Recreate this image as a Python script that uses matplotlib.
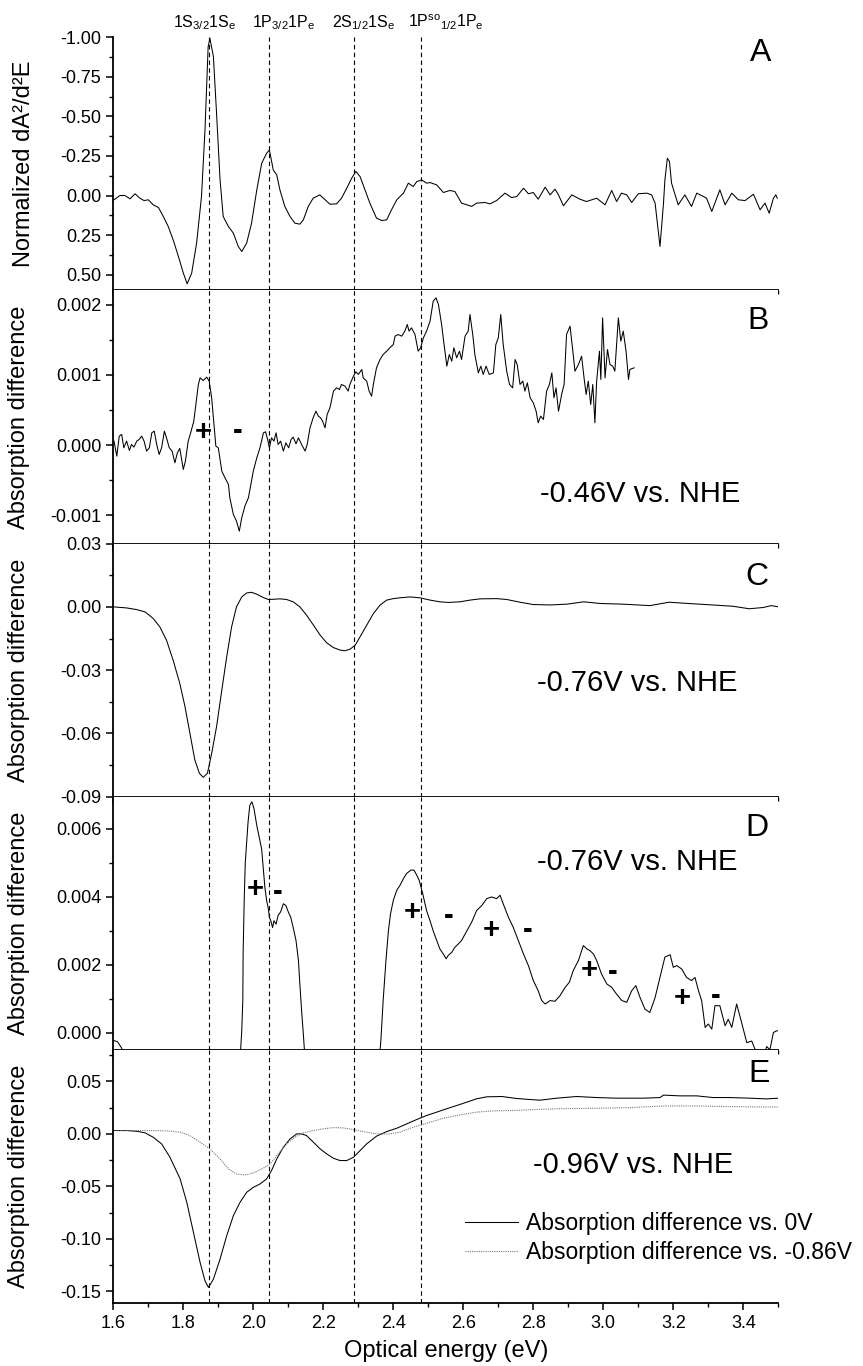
import numpy as np
import matplotlib
matplotlib.use("Agg")
import matplotlib.pyplot as plt
from matplotlib.ticker import MultipleLocator, FormatStrFormatter

plt.rcParams['font.family'] = ['Liberation Sans', 'DejaVu Sans']
plt.rcParams['axes.unicode_minus'] = False
plt.rcParams['mathtext.fontset'] = 'custom'
plt.rcParams['mathtext.rm'] = 'Liberation Sans'
plt.rcParams['mathtext.it'] = 'Liberation Sans:italic'
plt.rcParams['mathtext.bf'] = 'Liberation Sans:bold'

# transition energies (eV) and their labels
trans_e = [1.873, 2.044, 2.289, 2.479]
trans_lbl = [r'1S$_{\mathrm{3/2}}$1S$_{\mathrm{e}}$',
             r'1P$_{\mathrm{3/2}}$1P$_{\mathrm{e}}$',
             r'2S$_{\mathrm{1/2}}$1S$_{\mathrm{e}}$',
             r'1P$^{\mathrm{so}}{}_{\mathrm{1/2}}$1P$_{\mathrm{e}}$']

# panel A: normalized second derivative
a_x = [1.602, 1.619, 1.633, 1.648, 1.662, 1.676, 1.688, 1.700, 1.714, 1.729, 1.743, 1.757,
       1.771, 1.786, 1.800, 1.811, 1.824, 1.838, 1.852, 1.862, 1.871, 1.876, 1.886, 1.895,
       1.905, 1.914, 1.929, 1.943, 1.957, 1.967, 1.981, 1.995, 2.010, 2.024, 2.038, 2.046,
       2.057, 2.067, 2.076, 2.090, 2.105, 2.119, 2.133, 2.143, 2.157, 2.171, 2.190, 2.205,
       2.219, 2.238, 2.252, 2.267, 2.281, 2.293, 2.305, 2.319, 2.333, 2.352, 2.367, 2.381,
       2.395, 2.410, 2.429, 2.443, 2.457, 2.467, 2.481, 2.495,
       2.505, 2.524, 2.543, 2.562, 2.576, 2.595, 2.624, 2.638, 2.662, 2.676, 2.695, 2.719,
       2.738, 2.753, 2.772, 2.786, 2.800, 2.814, 2.834, 2.848, 2.862, 2.872, 2.886, 2.910,
       2.933, 2.952, 2.981, 3.005, 3.024, 3.038, 3.052, 3.067, 3.081, 3.100, 3.124, 3.138,
       3.148, 3.162, 3.172, 3.176, 3.183, 3.189, 3.195, 3.214, 3.233, 3.252, 3.267, 3.286,
       3.295, 3.310, 3.333, 3.348, 3.367, 3.386, 3.405, 3.429, 3.448, 3.462, 3.474, 3.486,
       3.493, 3.497]
a_y = [0.027, 0.0, 0.0, 0.021, -0.011, 0.017, 0.032, 0.027, 0.059, 0.076, 0.133, 0.196,
       0.280, 0.385, 0.490, 0.558, 0.490, 0.301, 0.006, -0.415, -0.941, -0.993, -0.878, -0.520,
       -0.099, 0.133, 0.196, 0.238, 0.322, 0.354, 0.301, 0.175, -0.036, -0.204, -0.267, -0.288,
       -0.162, -0.130, -0.036, 0.069, 0.133, 0.175, 0.181, 0.154, 0.069, 0.017, -0.004, 0.027,
       0.055, 0.053, 0.017, -0.046, -0.109, -0.152, -0.120, -0.036, 0.048, 0.143, 0.158, 0.154,
       0.090, 0.027, -0.015, -0.078, -0.057, -0.088, -0.099, -0.078,
       -0.082, -0.067, -0.019, -0.032, -0.025, 0.048, 0.069, 0.048, 0.044, 0.053, 0.032, -0.015,
       0.013, 0.006, -0.046, -0.011, -0.019, 0.023, -0.053, -0.004, -0.040, -0.004, 0.065, -0.004,
       0.023, 0.038, 0.017, 0.059, -0.032, 0.038, -0.015, -0.004, 0.044, -0.011, -0.015, -0.004,
       0.048, 0.322, 0.048, -0.099, -0.236, -0.215, -0.078, 0.059, -0.004, 0.069, -0.015, 0.006,
       0.017, 0.101, -0.036, 0.059, -0.015, 0.027, 0.032, -0.008, 0.090, 0.048, 0.112, 0.017,
       -0.004, 0.017]

# panel B: -0.46 V (values in 1e-3)
b_x = [1.602, 1.610, 1.617, 1.624, 1.630, 1.638, 1.646, 1.652, 1.659, 1.667, 1.674, 1.681,
       1.688, 1.695, 1.703, 1.710, 1.717, 1.724, 1.731, 1.738, 1.746, 1.752, 1.760, 1.768,
       1.776, 1.783, 1.790, 1.800, 1.806, 1.814, 1.821, 1.830, 1.836, 1.843, 1.848, 1.857,
       1.867, 1.874, 1.881, 1.886, 1.893, 1.900, 1.910, 1.919, 1.929, 1.933, 1.943, 1.952,
       1.960, 1.967, 1.976, 1.986, 2.000, 2.010, 2.019, 2.029, 2.035, 2.041, 2.046, 2.052,
       2.059, 2.065, 2.071, 2.078, 2.086, 2.093, 2.101, 2.108, 2.114, 2.122, 2.129, 2.138,
       2.148, 2.154, 2.162, 2.171, 2.179, 2.186, 2.192, 2.198, 2.205, 2.211, 2.219, 2.229,
       2.238, 2.246, 2.252, 2.262, 2.271, 2.276, 2.286, 2.293, 2.300, 2.310, 2.314, 2.324,
       2.331, 2.338, 2.343, 2.352, 2.362, 2.371, 2.381, 2.390, 2.400, 2.405, 2.414, 2.424,
       2.433, 2.440, 2.445, 2.452, 2.462, 2.471, 2.478, 2.486, 2.495, 2.505,
       2.514, 2.522, 2.529, 2.538, 2.545, 2.553, 2.560, 2.567, 2.573, 2.581, 2.589, 2.595,
       2.605, 2.614, 2.619, 2.627, 2.633, 2.643, 2.650, 2.657, 2.665, 2.674, 2.686, 2.693,
       2.700, 2.707, 2.714, 2.724, 2.732, 2.741, 2.748, 2.754, 2.762, 2.770, 2.776, 2.783,
       2.791, 2.800, 2.808, 2.814, 2.821, 2.829, 2.838, 2.846, 2.853, 2.859, 2.865, 2.872,
       2.881, 2.888, 2.895, 2.905, 2.913, 2.919, 2.929, 2.938, 2.945, 2.951, 2.957, 2.964,
       2.970, 2.976, 2.981, 2.989, 2.993, 2.998, 3.005, 3.012, 3.019, 3.027, 3.033, 3.043,
       3.050, 3.057, 3.065, 3.072, 3.076, 3.088]
b_y = [0.057, -0.156, 0.128, 0.152, -0.038, 0.057, -0.076, 0.009, -0.028, 0.057, 0.081, 0.128,
       0.057, -0.085, -0.038, 0.175, 0.199, 0.009, -0.133, -0.038, 0.199, 0.104, -0.038, -0.085,
       -0.251, -0.109, -0.047, -0.346, -0.227, 0.057, 0.175, 0.341, 0.578, 0.863, 0.957, 0.919,
       0.967, 0.910, 0.673, 0.389, -0.014, -0.038, -0.370, -0.464, -0.559, -0.749, -0.986, -1.081,
       -1.223, -1.033, -0.867, -0.749, -0.370, -0.180, -0.038, 0.175, 0.190, 0.081, -0.038, 0.104,
       0.057, 0.175, 0.009, 0.057, -0.085, 0.033, -0.038, 0.081, 0.114, 0.019, 0.104, 0.009,
       -0.085, 0.009, 0.246, 0.389, 0.483, 0.412, 0.389, 0.341, 0.246, 0.436, 0.531, 0.768,
       0.815, 0.791, 0.863, 0.839, 0.768, 0.863, 0.981, 1.043, 1.005, 1.076, 0.957, 0.910,
       0.768, 0.697, 0.863, 1.100, 1.218, 1.289, 1.336, 1.384, 1.431, 1.550, 1.573, 1.550,
       1.621, 1.716, 1.621, 1.668, 1.573, 1.336, 1.384, 1.526, 1.621, 1.763,
       2.047, 2.095, 2.000, 1.716, 1.431, 1.123, 1.289, 1.194, 1.384, 1.242, 1.336, 1.218,
       1.550, 1.621, 1.858, 1.573, 1.289, 1.028, 1.123, 1.005, 1.123, 1.005, 1.028, 1.431,
       1.526, 1.858, 1.431, 1.052, 0.863, 0.815, 1.218, 1.147, 0.863, 0.910, 0.768, 0.886,
       0.673, 0.602, 0.483, 0.318, 0.412, 0.365, 0.768, 0.863, 1.028, 0.673, 0.815, 0.483,
       0.720, 0.863, 1.573, 1.692, 1.336, 1.052, 1.147, 1.265, 0.957, 0.720, 0.910, 0.578,
       0.863, 0.318, 0.910, 1.336, 0.934, 1.810, 0.957, 1.360, 1.147, 1.123, 1.052, 1.810,
       1.479, 1.621, 1.336, 0.934, 1.076, 1.100]

# panel C: -0.76 V
c_x = [1.600, 1.638, 1.667, 1.691, 1.714, 1.733, 1.752, 1.771, 1.790, 1.805, 1.819, 1.833,
       1.846, 1.857, 1.869, 1.881, 1.895, 1.910, 1.924, 1.938, 1.952, 1.967, 1.981, 1.995,
       2.010, 2.029, 2.043, 2.057, 2.076, 2.095, 2.114, 2.133, 2.152, 2.172, 2.191, 2.210,
       2.229, 2.248, 2.262, 2.276, 2.291, 2.305, 2.324, 2.343, 2.362, 2.381, 2.400, 2.419,
       2.448, 2.476, 2.505, 2.533, 2.557, 2.591, 2.619, 2.648, 2.695, 2.724, 2.762, 2.800,
       2.849, 2.897, 2.944, 2.991, 3.054, 3.133, 3.188, 3.243, 3.322, 3.370, 3.417, 3.457,
       3.480, 3.500]
c_y = [0.0, -0.0005, -0.0013, -0.0024, -0.0055, -0.0095, -0.0158, -0.0253, -0.0363, -0.0474,
       -0.0600, -0.0726, -0.0789, -0.0808, -0.0789, -0.0695, -0.0568, -0.0395, -0.0237, -0.0095,
       0.0, 0.0047, 0.0066, 0.0069, 0.0060, 0.0044, 0.0035, 0.0036, 0.0038, 0.0035, 0.0024, 0.0,
       -0.0039, -0.0087, -0.0134, -0.0171, -0.0193, -0.0205, -0.0208, -0.0201, -0.0182, -0.0142,
       -0.0087, -0.0032, 0.0008, 0.0032, 0.0039, 0.0043, 0.0047, 0.0043, 0.0032, 0.0024, 0.0021,
       0.0024, 0.0032, 0.0038, 0.0039, 0.0035, 0.0022, 0.0011, 0.0009, 0.0013, 0.0024, 0.0016,
       0.0013, 0.0006, 0.0022, 0.0016, 0.0008, 0.0003, -0.0009, -0.0003, 0.0006, 0.0]

# panel D: -0.76 V (second measurement)
d_x = [1.600, 1.612, 1.624, 1.632, 1.962, 1.967, 1.970, 1.971, 1.974, 1.977, 1.981, 1.985,
       1.990, 1.996, 2.002, 2.010, 2.018, 2.024, 2.029, 2.033, 2.038, 2.043, 2.046, 2.050,
       2.055, 2.059, 2.065, 2.071, 2.078, 2.086, 2.093, 2.100, 2.107, 2.114, 2.122, 2.129,
       2.133, 2.138, 2.143, 2.148, 2.360, 2.365, 2.371, 2.379, 2.386, 2.392, 2.400, 2.410,
       2.419, 2.429, 2.438, 2.450, 2.459, 2.467, 2.474, 2.484, 2.495, 2.505, 2.514, 2.524,
       2.533, 2.543, 2.551, 2.557, 2.567, 2.576, 2.586, 2.595, 2.610, 2.624, 2.638, 2.653,
       2.667, 2.681, 2.695, 2.705, 2.714, 2.729, 2.743, 2.757, 2.772, 2.786, 2.800, 2.814,
       2.824, 2.834, 2.848, 2.862, 2.876, 2.891, 2.903, 2.914, 2.929, 2.943, 2.953, 2.962,
       2.972, 2.981, 2.995, 3.010, 3.024, 3.038, 3.053, 3.067, 3.081, 3.093, 3.105, 3.119,
       3.133, 3.148, 3.162, 3.176, 3.191, 3.200, 3.210, 3.224, 3.238, 3.252, 3.262, 3.272,
       3.281, 3.291, 3.300, 3.310, 3.319, 3.333, 3.348, 3.357, 3.367, 3.381, 3.395, 3.410,
       3.424, 3.438, 3.457, 3.467, 3.476, 3.486, 3.495, 3.500]
d_y = [-0.00022, -0.00026, -0.00045, -0.0009, -0.0008, 0.00006, 0.00095, 0.0024, 0.0039,
       0.0050, 0.0056, 0.0062, 0.0067, 0.0068, 0.0066, 0.0061, 0.0057, 0.0054, 0.00479,
       0.00429, 0.0039, 0.00365, 0.0034, 0.0033, 0.0031, 0.0033, 0.0032, 0.00346, 0.00356,
       0.0038, 0.00375, 0.00356, 0.0034, 0.0031, 0.00272, 0.00213, 0.00144, 0.00065, -0.00004,
       -0.0008, -0.0008, -0.00014, 0.00095, 0.00213, 0.0030, 0.0035, 0.0039, 0.0042, 0.00434,
       0.00454, 0.00469, 0.00479, 0.00479, 0.00464, 0.00449, 0.0041, 0.0036, 0.0033, 0.0030,
       0.00272, 0.00247, 0.00232, 0.00218, 0.00228, 0.00237, 0.00252, 0.00262, 0.00272, 0.0030,
       0.00326, 0.0036, 0.00375, 0.00395, 0.0040, 0.00395, 0.00405, 0.0038, 0.0034, 0.0031,
       0.00272, 0.00232, 0.00198, 0.00154, 0.00124, 0.00095, 0.00085, 0.00095, 0.00093, 0.00109,
       0.00134, 0.00149, 0.00183, 0.00213, 0.00257, 0.00247, 0.00242, 0.00232, 0.00213, 0.00173,
       0.00144, 0.00134, 0.00114, 0.00095, 0.0009, 0.00124, 0.00139, 0.00104, 0.0007, 0.0006,
       0.00104, 0.00163, 0.00223, 0.0023, 0.00193, 0.00198, 0.00188, 0.00163, 0.00154, 0.00163,
       0.00124, 0.00095, 0.00016, 0.00026, 0.00011, 0.0008, 0.0008, 0.00021, 0.0004, 0.00016,
       0.00085, 0.00031, -0.00029, -0.00024, -0.0006, -0.0007, -0.0004, -0.0005, 0.00001,
       0.00006, 0.00006]

# panel E: -0.96 V, two references
e_x = [1.600, 1.638, 1.667, 1.691, 1.714, 1.738, 1.762, 1.791, 1.810, 1.829, 1.848, 1.862,
       1.872, 1.886, 1.905, 1.924, 1.943, 1.962, 1.981, 2.000, 2.019, 2.038, 2.052, 2.067,
       2.086, 2.105, 2.124, 2.138, 2.152, 2.172, 2.191, 2.210, 2.229, 2.248, 2.267, 2.286,
       2.305, 2.324, 2.352, 2.381, 2.410, 2.438, 2.467, 2.495, 2.524, 2.552, 2.581, 2.610,
       2.638, 2.667, 2.710, 2.752, 2.791, 2.819, 2.867, 2.924, 2.981, 3.038, 3.115, 3.162,
       3.172, 3.219, 3.267, 3.314, 3.362, 3.419, 3.467, 3.500]
e_y0 = [0.0032, 0.0032, 0.0025, 0.0010, -0.0032, -0.0095, -0.0223, -0.0429, -0.0652, -0.0938,
        -0.1224, -0.1399, -0.1462, -0.1383, -0.1192, -0.0970, -0.0779, -0.0652, -0.0556, -0.0509,
        -0.0477, -0.0429, -0.0350, -0.0238, -0.0127, -0.0048, 0.0, 0.0, -0.0016, -0.0080,
        -0.0143, -0.0191, -0.0232, -0.0254, -0.0254, -0.0223, -0.0159, -0.0095, -0.0022, 0.0022,
        0.0054, 0.0095, 0.0137, 0.0175, 0.0207, 0.0239, 0.0270, 0.0302, 0.0334, 0.0353, 0.0356,
        0.0337, 0.0327, 0.0321, 0.0340, 0.0356, 0.0346, 0.0340, 0.0340, 0.0346, 0.0369, 0.0362,
        0.0362, 0.0346, 0.0346, 0.0340, 0.0333, 0.0340]
e2_x = [1.600, 1.657, 1.705, 1.752, 1.791, 1.819, 1.848, 1.876, 1.905, 1.929, 1.952, 1.976,
        2.000, 2.024, 2.048, 2.071, 2.095, 2.119, 2.143, 2.172, 2.200, 2.229, 2.257, 2.286,
        2.314, 2.352, 2.391, 2.419, 2.457, 2.495, 2.543, 2.590, 2.638, 2.686, 2.743, 2.819,
        2.886, 2.981, 3.076, 3.172, 3.267, 3.362, 3.457, 3.500]
e_y86 = [0.0032, 0.0032, 0.0032, 0.0029, 0.0016, -0.0016, -0.0080, -0.0143, -0.0238, -0.0334,
         -0.0382, -0.0391, -0.0372, -0.0334, -0.0286, -0.0191, -0.0095, -0.0032, 0.0010, 0.0032,
         0.0048, 0.0060, 0.0057, 0.0041, 0.0022, 0.0, 0.0, 0.0016, 0.0064, 0.0100, 0.0149,
         0.0181, 0.0207, 0.0219, 0.0223, 0.0234, 0.0240, 0.0244, 0.0250, 0.0266, 0.0266, 0.0260,
         0.0256, 0.0256]

# +/- markers (x, y, sign)
b_signs = [(1.856, 0.00019, '+'), (1.954, 0.00020, '-')]
d_signs = [(2.005, 0.00422, '+'), (2.071, 0.00415, '-'),
           (2.453, 0.00355, '+'), (2.557, 0.00344, '-'),
           (2.681, 0.00303, '+'), (2.784, 0.00303, '-'),
           (2.960, 0.00185, '+'), (3.027, 0.00178, '-'),
           (3.226, 0.00104, '+'), (3.322, 0.00109, '-')]

W, H = 863, 1366
fig, axs = plt.subplots(5, 1, sharex=True, figsize=(W / 100, H / 100), dpi=100)
fig.subplots_adjust(left=113.3 / W, right=778.3 / W, top=1 - 37.3 / H,
                    bottom=1 - 1303 / H, hspace=0)


def fp(x, y):
    return x / W, 1 - y / H


lw = 0.75
axs[0].plot(a_x, a_y, color='k', lw=lw)
axs[1].plot(b_x, np.array(b_y) * 1e-3, color='k', lw=lw)
axs[2].plot(c_x, c_y, color='k', lw=lw)
axs[3].plot(d_x, d_y, color='k', lw=lw)
axs[4].plot(e_x, e_y0, color='k', lw=lw, label='Absorption difference vs. 0V')
axs[4].plot(e2_x, e_y86, color='#777777', lw=0.8, ls=(0, (1, 1)),
            label='Absorption difference vs. -0.86V')

axs[0].set_ylim(0.60, -1.0)
axs[1].set_ylim(-0.0014, 0.0022)
axs[2].set_ylim(-0.09, 0.03)
axs[3].set_ylim(-0.0005, 0.00695)
axs[4].set_ylim(-0.161, 0.080)
axs[4].set_xlim(1.6, 3.5)

major = [0.25, 0.001, 0.03, 0.002, 0.05]
fmts = ['%.2f', '%.3f', '%.2f', '%.3f', '%.2f']
for ax, m, f in zip(axs, major, fmts):
    ax.yaxis.set_major_locator(MultipleLocator(m))
    ax.yaxis.set_minor_locator(MultipleLocator(m / 2))
    ax.yaxis.set_major_formatter(FormatStrFormatter(f))
    ax.xaxis.set_major_locator(MultipleLocator(0.2))
    ax.xaxis.set_minor_locator(MultipleLocator(0.1))
    ax.spines['top'].set_visible(False)
    ax.spines['right'].set_visible(False)
    ax.spines['left'].set_linewidth(1.3)
    ax.spines['bottom'].set_linewidth(1.3)
    ax.tick_params(which='major', direction='out', length=5, width=1.1, labelsize=13)
    ax.tick_params(which='minor', direction='out', length=3, width=1.0)
    ax.tick_params(axis='x', which='both', top=False)
    for e in trans_e:
        ax.axvline(e, color='k', lw=0.8, ls=(0, (4, 3)))

axs[4].xaxis.set_major_formatter(FormatStrFormatter('%.1f'))
axs[4].set_xlabel('Optical energy (eV)', fontsize=17, labelpad=6)

axs[0].set_ylabel('Normalized dA²/d²E', fontsize=17)
for ax in axs[1:]:
    ax.set_ylabel('Absorption difference', fontsize=17)
axs[0].yaxis.set_label_coords(-0.118, 0.5)
for ax in axs[1:]:
    ax.yaxis.set_label_coords(-0.125, 0.5)

for x, y, s in b_signs:
    axs[1].text(x, y, s, fontsize=21, fontweight='bold', ha='center', va='center')
for x, y, s in d_signs:
    axs[3].text(x, y, s, fontsize=21, fontweight='bold', ha='center', va='center')

# panel letters
for lbl, (px, py) in zip('ABCDE', [(761, 53), (758, 321), (757, 577), (757, 828), (759, 1074)]):
    fig.text(*fp(px, py), lbl, fontsize=23, ha='center', va='center')

# potentials
for lbl, (px, py) in zip(['-0.46V vs. NHE', '-0.76V vs. NHE', '-0.76V vs. NHE', '-0.96V vs. NHE'],
                         [(640, 494), (637, 683), (637, 862), (633, 1165)]):
    fig.text(*fp(px, py), lbl, fontsize=21, ha='center', va='center')

# transition labels above panel A
for lbl, px in zip(trans_lbl, [205, 284, 364, 446]):
    fig.text(*fp(px, 27), lbl, fontsize=11.5, ha='center', va='baseline')

axs[4].legend(loc='center left', bbox_to_anchor=(0.529, 0.256), frameon=False,
              fontsize=16.5, handlelength=2.3, handletextpad=0.35, labelspacing=0.25,
              borderpad=0, borderaxespad=0)

fig.savefig('out.png', dpi=100)
